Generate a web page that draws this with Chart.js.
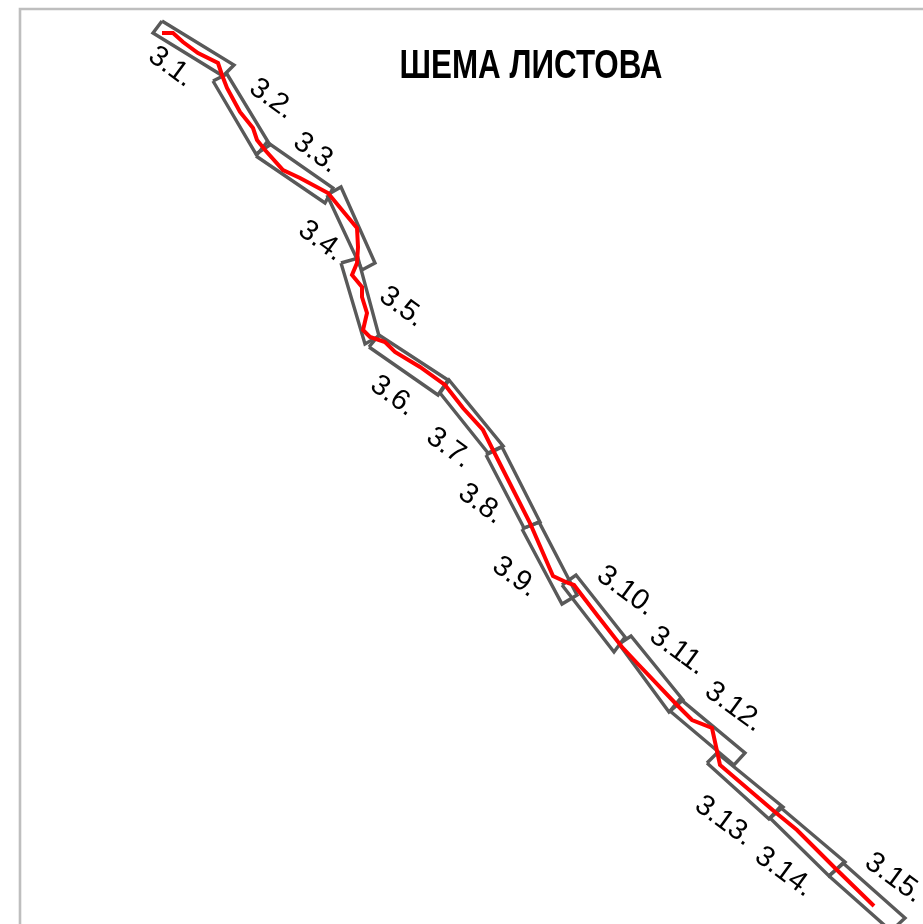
<!DOCTYPE html>
<html>
<head>
<meta charset="utf-8">
<title>Шема листова</title>
<script src="https://cdn.jsdelivr.net/npm/chart.js@4"></script>
<style>
    html, body { margin: 0; padding: 0; background: #fff; }
    canvas { display: block; }
</style>
</head>
<body>
<canvas id="sheetChart" width="923" height="924"></canvas>
<script>
// ---------- DATA (map units, y runs downwards) ----------
const chartTitle = 'ШЕМА ЛИСТОВА';

const frameX = [20, 20, 923];
const frameY = [924, 9, 9];

const sheetNames = ['3.1.', '3.2.', '3.3.', '3.4.', '3.5.', '3.6.', '3.7.', '3.8.', '3.9.', '3.10.', '3.11.', '3.12.', '3.13.', '3.14.', '3.15.'];
const labelX = [171, 272, 316, 321, 402, 393, 449, 481, 515, 626, 678, 734, 724, 784, 894];
const labelY = [67, 99, 153, 241, 307, 396, 448, 504, 577, 591, 651, 707, 821, 872, 878];
const labelAngle = [36, 36, 36, 36, 36, 36, 36, 36, 36, 36, 36, 36, 36, 36, 36];

// corners of each sheet, x1 y1 x2 y2 ...
const sheetCorners = [
    [162, 21, 234, 65, 223, 76, 153, 33],
    [213, 81, 227, 74, 270, 145, 256, 154],
    [256, 156, 267, 142, 333, 188, 325, 203],
    [327, 195, 341, 187, 375, 263, 362, 270],
    [341, 263, 358, 258, 379, 336, 365, 344],
    [369, 347, 379, 335, 448, 380, 438, 395],
    [440, 393, 449, 380, 503, 446, 488, 453],
    [486, 455, 502, 447, 540, 522, 524, 528],
    [522, 529, 539, 522, 577, 595, 562, 604],
    [562, 585, 576, 575, 625, 637, 614, 652],
    [619, 644, 631, 636, 683, 700, 669, 712],
    [670, 711, 680, 699, 745, 753, 734, 765],
    [707, 763, 717, 753, 783, 807, 769, 819],
    [770, 818, 780, 807, 845, 862, 829, 876],
    [829, 876, 843, 863, 905, 918, 891, 931]
];

const routeX = [162, 173, 183, 198, 218, 222, 227, 240, 253, 257, 265, 283, 300, 328, 342, 357, 358, 357, 352, 362, 362, 367, 363, 370, 385, 395, 420, 445, 463, 483, 493, 530, 553, 568, 574, 597, 622, 637, 677, 692, 712, 720, 775, 797, 837, 874];
const routeY = [33, 33, 42, 53, 63, 75, 88, 112, 128, 140, 150, 170, 178, 193, 210, 228, 247, 263, 275, 287, 297, 313, 330, 337, 342, 352, 367, 385, 408, 430, 450, 523, 576, 583, 585, 615, 647, 663, 705, 720, 728, 765, 812, 830, 870, 906];

// ---------- BUILD DATASETS ----------
function toPoints(xs, ys) {
    return xs.map((x, i) => ({ x: x, y: ys[i] }));
}

function sheetPoints(corners) {
    const pts = [];
    for (let i = 0; i < corners.length; i += 2) {
        pts.push({ x: corners[i], y: corners[i + 1] });
    }
    pts.push({ x: corners[0], y: corners[1] });
    return pts;
}

const datasets = [
    { label: 'route', data: toPoints(routeX, routeY), borderColor: '#ff0000', borderWidth: 4, order: 0 },
    { label: 'frame', data: toPoints(frameX, frameY), borderColor: '#bebebe', borderWidth: 2.6, order: 2 }
];
sheetCorners.forEach((corners, i) => {
    datasets.push({ label: sheetNames[i], data: sheetPoints(corners), borderColor: '#595959', borderWidth: 3.4, order: 1 });
});

// ---------- TEXT ----------
const sheetText = {
    id: 'sheetText',
    afterDatasetsDraw(chart) {
        const { ctx, scales } = chart;
        ctx.save();
        ctx.fillStyle = '#000';
        ctx.textAlign = 'center';
        ctx.textBaseline = 'middle';
        ctx.font = '29px "Liberation Sans"';
        sheetNames.forEach((name, i) => {
            ctx.save();
            ctx.translate(scales.x.getPixelForValue(labelX[i]), scales.y.getPixelForValue(labelY[i]));
            ctx.rotate(labelAngle[i] * Math.PI / 180);
            ctx.fillText(name, 0, 0);
            ctx.restore();
        });
        // the title is a squeezed bold face, fillText maxWidth does the squeezing
        ctx.font = 'bold 40px "Liberation Sans"';
        ctx.fillText(chartTitle, scales.x.getPixelForValue(531), scales.y.getPixelForValue(67), 263);
        ctx.restore();
    }
};

new Chart(document.getElementById('sheetChart'), {
    type: 'scatter',
    data: { datasets: datasets },
    plugins: [sheetText],
    options: {
        responsive: false,
        animation: false,
        devicePixelRatio: 1,
        showLine: true,
        elements: {
            point: { radius: 0 },
            line: { tension: 0, borderJoinStyle: 'miter', fill: false }
        },
        layout: { padding: 0 },
        plugins: { legend: { display: false }, tooltip: { enabled: false }, title: { display: false } },
        scales: {
            x: { type: 'linear', display: false, min: 0, max: 923 },
            y: { type: 'linear', display: false, min: 0, max: 924, reverse: true }
        }
    }
});
</script>
</body>
</html>
